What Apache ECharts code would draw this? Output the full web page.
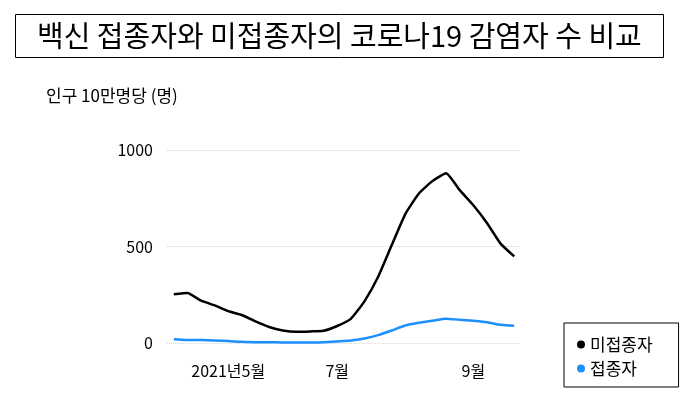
<!DOCTYPE html>
<html>
<head>
    <meta charset="utf-8">
    <title>ECharts</title>
    <script src="https://cdn.jsdelivr.net/npm/echarts@6/dist/echarts.min.js"></script>
    <style type="text/css">
        * { margin: 0; padding: 0; }
        body { background: #fff; }
    </style>
</head>
<body>
<div id="main" style="width: 680px; height: 397px;"></div>
<script type="text/javascript">
    // weekly points (26 weeks)
    var weeks = [];
    for (var w = 0; w < 26; w++) { weeks.push('w' + w); }

    // x tick labels by week index
    var tickLabels = { 4: '2021년5월', 12: '7월', 22: '9월' };

    var unvaccinated = [252, 259, 219, 195, 165, 145, 112, 83, 65, 58, 60, 63, 88,
                        125, 216, 342, 506, 668, 775, 839, 879, 792, 714, 622, 515, 449];
    var vaccinated = [20, 16, 15, 13, 10, 6, 4, 4, 3, 3, 3, 4, 8,
                      13, 23, 41, 65, 91, 105, 115, 126, 120, 115, 108, 94, 89];

    var FONT = '"Noto Sans CJK KR", "Noto Sans", sans-serif';

    var myChart = echarts.init(document.getElementById('main'));

    var option = {
        backgroundColor: '#fff',
        textStyle: { fontFamily: FONT },
        title: [
            {
                text: '백신 접종자와 미접종자의 코로나19 감염자 수 비교',
                left: 15,
                top: 14,
                borderColor: '#000',
                borderWidth: 1,
                padding: [7, 22, 7, 22],
                textStyle: { fontFamily: FONT, fontSize: 29, lineHeight: 30, fontWeight: 'normal', color: '#000' }
            },
            {
                text: '인구 10만명당 (명)',
                left: 46,
                top: 87,
                padding: 0,
                textStyle: { fontFamily: FONT, fontSize: 17, fontWeight: 'normal', color: '#000' }
            }
        ],
        legend: {
            orient: 'vertical',
            left: 564,
            top: 323,
            padding: [13, 26, 10, 13],
            borderColor: '#000',
            borderWidth: 1,
            icon: 'circle',
            itemWidth: 8,
            itemHeight: 8,
            itemGap: 7,
            textStyle: { fontFamily: FONT, fontSize: 17, color: '#000' },
            data: ['미접종자', '접종자']
        },
        grid: { left: 167, right: 159, top: 150, bottom: 54 },
        xAxis: {
            type: 'category',
            data: weeks,
            boundaryGap: true,
            axisLine: { show: false },
            axisTick: { show: false },
            axisLabel: {
                interval: function (idx) { return tickLabels[idx] !== undefined; },
                formatter: function (v, idx) { return tickLabels[idx] || ''; },
                fontFamily: FONT,
                fontSize: 16,
                color: '#000',
                margin: 20
            }
        },
        yAxis: {
            type: 'value',
            min: 0,
            max: 1000,
            interval: 500,
            axisLine: { show: false },
            axisTick: { show: false },
            axisLabel: {
                fontFamily: FONT,
                fontSize: 16,
                color: '#000',
                margin: 14,
                formatter: function (v) { return String(v); }
            },
            splitLine: { lineStyle: { type: 'dotted', color: '#d8d8d8', width: 1 } }
        },
        series: [
            {
                name: '미접종자',
                type: 'line',
                data: unvaccinated,
                smooth: 0.15,
                symbol: 'none',
                itemStyle: { color: '#000' },
                lineStyle: { color: '#000', width: 2.5 }
            },
            {
                name: '접종자',
                type: 'line',
                data: vaccinated,
                smooth: 0.3,
                symbol: 'none',
                itemStyle: { color: '#1e8fff' },
                lineStyle: { color: '#1e8fff', width: 2.5 }
            }
        ]
    };

    myChart.setOption(option);
</script>
</body>
</html>
